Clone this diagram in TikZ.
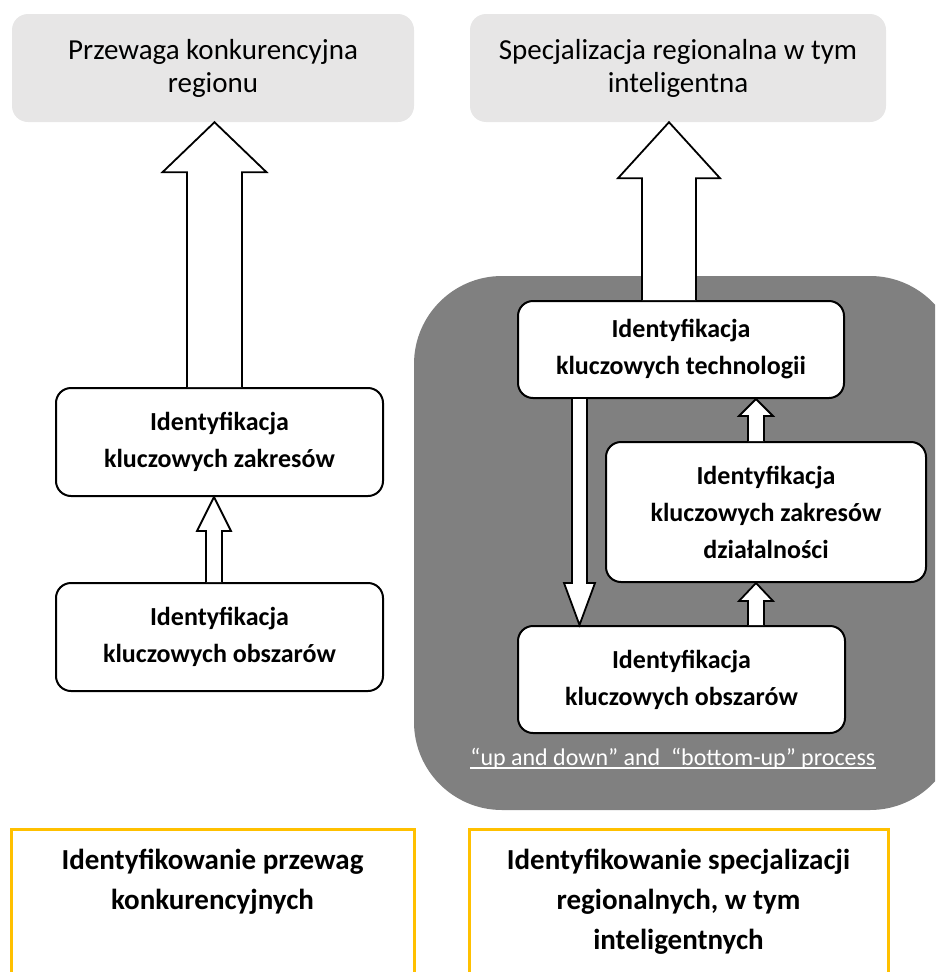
\documentclass[tikz,border=0pt]{standalone}
\usepackage{fontspec}
\setmainfont{Carlito}
\usepackage{tikz}
\usetikzlibrary{calc,positioning}
\definecolor{goalgrey}{RGB}{231,230,230}
\definecolor{processgrey}{RGB}{128,128,128}
\definecolor{resultgold}{RGB}{255,192,0}

% block arrows between two nodes: #1 foot, #2 tip, #3 half shaft, #4 half head, #5 head length
\newcommand{\blkup}[5]{%
    \draw[block arrow] let \p1=(#1), \p2=(#2) in
        (\x1-#3pt,\y1) -- (\x1-#3pt,\y2-#5pt) -- (\x1-#4pt,\y2-#5pt) -- (\x1,\y2)
        -- (\x1+#4pt,\y2-#5pt) -- (\x1+#3pt,\y2-#5pt) -- (\x1+#3pt,\y1);}
\newcommand{\blkdown}[5]{%
    \draw[block arrow] let \p1=(#1), \p2=(#2) in
        (\x1-#3pt,\y1) -- (\x1-#3pt,\y2+#5pt) -- (\x1-#4pt,\y2+#5pt) -- (\x1,\y2)
        -- (\x1+#4pt,\y2+#5pt) -- (\x1+#3pt,\y2+#5pt) -- (\x1+#3pt,\y1);}

\begin{document}
\begin{tikzpicture}[
    x=1pt, y=1pt,
    goal box/.style={rectangle, rounded corners=16pt, fill=goalgrey, align=center, inner sep=0pt,
        font=\fontsize{29}{33}\selectfont},
    idbox/.style={rectangle, rounded corners=15pt, draw=black, line width=2pt, fill=white, align=center,
        inner sep=0pt, font=\fontsize{26}{37}\selectfont\bfseries},
    result box/.style={rectangle, draw=resultgold, line width=3pt, fill=white, outer sep=0pt},
    result text/.style={align=center, inner sep=0pt, font=\fontsize{29}{40}\selectfont\bfseries},
    block arrow/.style={draw=black, line width=1.8pt, fill=white, line join=miter}
]
    \useasboundingbox (0,0) rectangle (935,-972);
    \clip (0,0) rectangle (935,-972);

    % Goals
    \node[goal box, minimum width=402, minimum height=108] (topL) at (213,-68)
        {Przewaga konkurencyjna\\regionu};
    \node[goal box, minimum width=416, minimum height=108] (topR) at (678,-68)
        {Specjalizacja regionalna w tym\\inteligentna};

    % Process background
    \fill[processgrey, rounded corners=88pt] (414,-276) rectangle (958,-810);

    % Left chain
    \node[idbox, minimum width=327, minimum height=108] (zakL) at (219.5,-442)
        {Identyfikacja\\kluczowych zakresów};
    \node[idbox, minimum width=327, minimum height=108] (obsL) at (219.5,-637)
        {Identyfikacja\\kluczowych obszarów};
    \blkup{$(zakL.north)+(-5,0)$}{topL.south}{27.5}{52}{50}
    \blkup{$(obsL.north)+(-5.5,0)$}{zakL.south}{8}{17}{34}

    % Right chain
    \node[idbox, minimum width=326, minimum height=97] (tech) at (681,-349.5)
        {Identyfikacja\\kluczowych technologii};
    \node[idbox, minimum width=320, minimum height=140] (dzial) at (766,-512)
        {Identyfikacja\\kluczowych zakresów\\działalności};
    \node[idbox, minimum width=327, minimum height=107] (obsR) at (681.5,-679.5)
        {Identyfikacja\\kluczowych obszarów};
    \blkup{$(tech.north)+(-12,0)$}{topR.south}{27}{51}{56}
    \blkup{$(dzial.north)+(-10,0)$}{tech.south}{8}{17}{17}
    \blkup{$(obsR.north)+(74.5,0)$}{dzial.south}{8}{17}{18}
    \blkdown{$(tech.south)+(-101.5,0)$}{obsR.north}{7.5}{15.5}{42}

    \node[font=\fontsize{24}{28}\selectfont, text=white, inner sep=0pt, anchor=base] (caption) at (673,-765)
        {“up and down” and\ \ “bottom-up” process};
    \draw[white, line width=1.4pt] ($(caption.base west)+(0,-3)$) -- ($(caption.base east)+(0,-3)$);

    % Results
    \node[result box, minimum width=403, minimum height=180, anchor=north] (resL) at (212.5,-829) {};
    \node[result box, minimum width=419, minimum height=180, anchor=north] (resR) at (678.5,-829) {};
    \node[result text, below=20pt of resL.north] (resLtext)
        {Identyfikowanie przewag\\konkurencyjnych};
    \node[result text, below=20pt of resR.north] (resRtext)
        {Identyfikowanie specjalizacji\\regionalnych, w tym\\inteligentnych};
\end{tikzpicture}
\end{document}
